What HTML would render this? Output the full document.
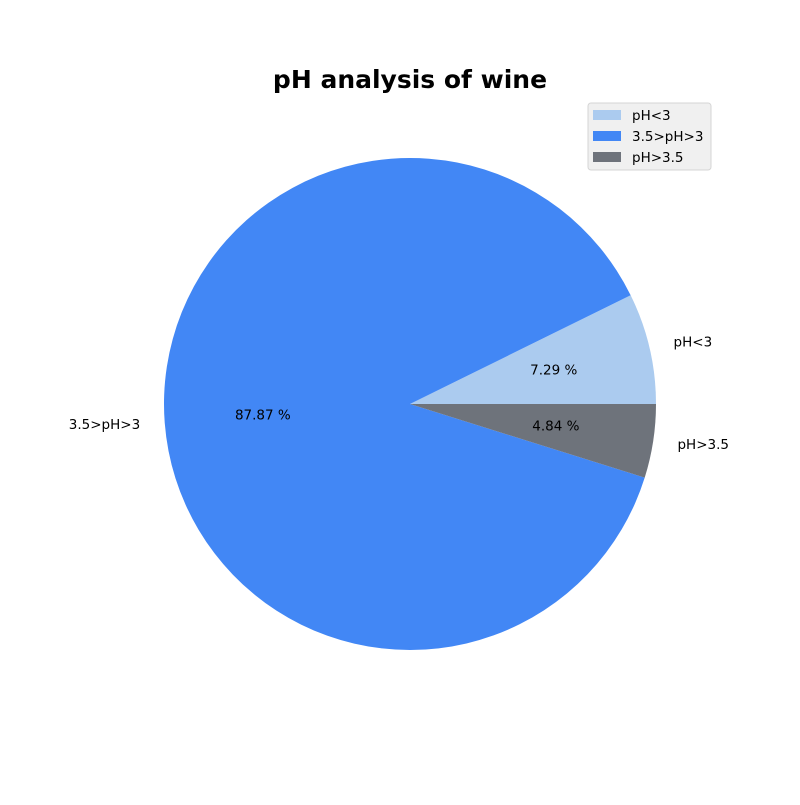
<!DOCTYPE html>
<html><head><meta charset="utf-8"><style>
body{margin:0;background:#fff}
svg text{font-family:"DejaVu Sans","Liberation Sans",sans-serif}
</style></head><body>
<svg id="chart" width="800" height="800" viewBox="0 0 800 800">
<rect width="800" height="800" fill="#fff"/>
<text x="410" y="88" text-anchor="middle" font-size="25" font-weight="bold">pH analysis of wine</text>
<g id="slices"></g>
<g id="legend">
<rect x="588" y="103" width="123" height="67" rx="3" fill="#f0f0f0" stroke="#d5d5d5"/>
</g>
</svg>
<script>
const categories = ["pH<3", "3.5>pH>3", "pH>3.5"];
const values = [7.29, 87.87, 4.84];
const colors = ["#abcbef", "#4287f5", "#6e737b"];
const cx = 410, cy = 404, r = 246;
const NS = "http://www.w3.org/2000/svg";
const g = document.getElementById("slices");
const lg = document.getElementById("legend");
const total = values.reduce((a,b)=>a+b,0);
let a0 = 0;
function pt(a, rr){ return [cx + rr*Math.cos(a), cy - rr*Math.sin(a)]; }
values.forEach((v,i)=>{
  const a1 = a0 + v/total*2*Math.PI;
  const [x0,y0] = pt(a0,r), [x1,y1] = pt(a1,r);
  const large = (a1-a0) > Math.PI ? 1 : 0;
  const p = document.createElementNS(NS,"path");
  p.setAttribute("d", `M${cx},${cy} L${x0},${y0} A${r},${r} 0 ${large} 0 ${x1},${y1} Z`);
  p.setAttribute("fill", colors[i]);
  
  
  g.appendChild(p);
  const am = (a0+a1)/2;
  const [lx,ly] = pt(am, r*1.1);
  const t = document.createElementNS(NS,"text");
  t.setAttribute("x", lx); t.setAttribute("y", ly+4);
  t.setAttribute("font-size","13.5");
  t.setAttribute("text-anchor", Math.cos(am) >= 0 ? "start" : "end");
  t.textContent = categories[i];
  
  
  g.appendChild(t);
  const [px,py] = pt(am, r*0.6);
  const t2 = document.createElementNS(NS,"text");
  t2.setAttribute("x", px); t2.setAttribute("y", py+4);
  t2.setAttribute("font-size","13.5");
  t2.setAttribute("text-anchor","middle");
  t2.textContent = v.toFixed(2) + " %";
  
  
  g.appendChild(t2);
  const sw = document.createElementNS(NS,"rect");
  sw.setAttribute("x",593); sw.setAttribute("y",110+i*21);
  sw.setAttribute("width",28); sw.setAttribute("height",10);
  sw.setAttribute("fill",colors[i]);
  
  
  lg.appendChild(sw);
  const lt = document.createElementNS(NS,"text");
  lt.setAttribute("x",632); lt.setAttribute("y",120+i*21);
  lt.setAttribute("font-size","13.5");
  lt.textContent = categories[i];
  
  
  lg.appendChild(lt);
  a0 = a1;
});
</script>
</body></html>
